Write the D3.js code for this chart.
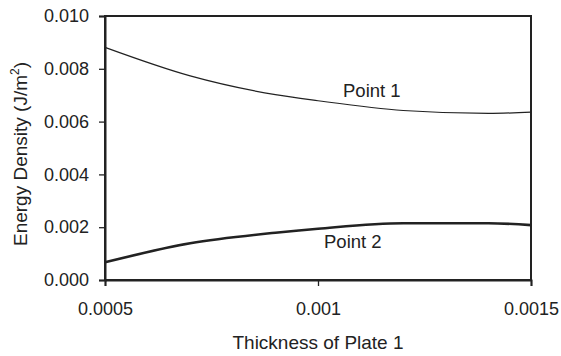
<!DOCTYPE html>
<html>
<head>
<meta charset="utf-8">
<script src="https://cdn.jsdelivr.net/npm/d3@7"></script>
<style>
  html, body { margin: 0; padding: 0; background: #fff; }
  svg text { font-family: "Liberation Sans", Arial, sans-serif; fill: #222; }
</style>
</head>
<body>
<svg id="chart" width="561" height="356"></svg>
<script>
// Plate 1 thickness values (x) and energy density at two points (J/m^2)
const thickness = [0.0005, 0.0007, 0.0009, 0.0010, 0.0012, 0.0014, 0.0015];
const point1 = [0.00881, 0.00773, 0.00702, 0.00679, 0.00642, 0.00631, 0.00636];
const point2 = [0.00067, 0.00139, 0.00179, 0.00194, 0.00215, 0.00215, 0.00208];
const xTicks = [0.0005, 0.001, 0.0015];
const xTickLabels = ["0.0005", "0.001", "0.0015"];
const yTicks = [0, 0.002, 0.004, 0.006, 0.008, 0.010];
const yTickLabels = ["0.000", "0.002", "0.004", "0.006", "0.008", "0.010"];

const svg = d3.select("#chart");
const m = { left: 105, right: 30, top: 16, bottom: 76 };
const W = 561, H = 356;
const FONT = "'Liberation Sans', Arial, sans-serif";

const x = d3.scaleLinear().domain([0.0005, 0.0015]).range([m.left, W - m.right]);
const y = d3.scaleLinear().domain([0, 0.010]).range([H - m.bottom, m.top]);

// plot frame
svg.append("rect")
  .attr("x", x(0.0005)).attr("y", y(0.010))
  .attr("width", x(0.0015) - x(0.0005)).attr("height", y(0) - y(0.010))
  .attr("fill", "none").attr("stroke", "#222").attr("stroke-width", 2);

// y axis
const yAxis = svg.append("g")
  .attr("transform", `translate(${m.left},0)`)
  .call(d3.axisLeft(y).tickValues(yTicks)
    .tickFormat((d, i) => yTickLabels[i]).tickSize(6).tickPadding(10));
yAxis.select(".domain").attr("stroke", "#222").attr("stroke-width", 2);
yAxis.selectAll(".tick line").attr("stroke", "#222").attr("stroke-width", 1.3);
yAxis.selectAll(".tick text").attr("font-size", 18)
  .style("font-family", FONT).attr("fill", "#222");

// x axis
const xAxis = svg.append("g")
  .attr("transform", `translate(0,${H - m.bottom})`)
  .call(d3.axisBottom(x).tickValues(xTicks)
    .tickFormat((d, i) => xTickLabels[i]).tickSize(6).tickPadding(16));
xAxis.select(".domain").attr("stroke", "#222").attr("stroke-width", 2);
xAxis.selectAll(".tick line").attr("stroke", "#222").attr("stroke-width", 1.3);
xAxis.selectAll(".tick text").attr("font-size", 18)
  .style("font-family", FONT).attr("fill", "#222");

// series lines
const line = series => d3.line()
  .x((d, i) => x(thickness[i]))
  .y(d => y(d))
  .curve(d3.curveMonotoneX)(series);

svg.append("path").attr("d", line(point1))
  .attr("fill", "none").attr("stroke", "#222").attr("stroke-width", 1.2);
svg.append("path").attr("d", line(point2))
  .attr("fill", "none").attr("stroke", "#222").attr("stroke-width", 2.6);

// series labels
svg.append("text").attr("x", 343).attr("y", 97).attr("font-size", 18.5).text("Point 1");
svg.append("text").attr("x", 324).attr("y", 248).attr("font-size", 18.5).text("Point 2");

// axis titles
svg.append("text")
  .attr("x", x(0.001)).attr("y", 349)
  .attr("text-anchor", "middle").attr("font-size", 19)
  .text("Thickness of Plate 1");

const yt = svg.append("text")
  .attr("transform", `translate(27,${(y(0) + y(0.010)) / 2 + 6}) rotate(-90)`)
  .attr("text-anchor", "middle").attr("font-size", 19);
yt.append("tspan").text("Energy Density (J/m");
yt.append("tspan").attr("font-size", 12).attr("dy", -8).text("2");
yt.append("tspan").attr("dy", 8).text(")");
</script>
</body>
</html>
